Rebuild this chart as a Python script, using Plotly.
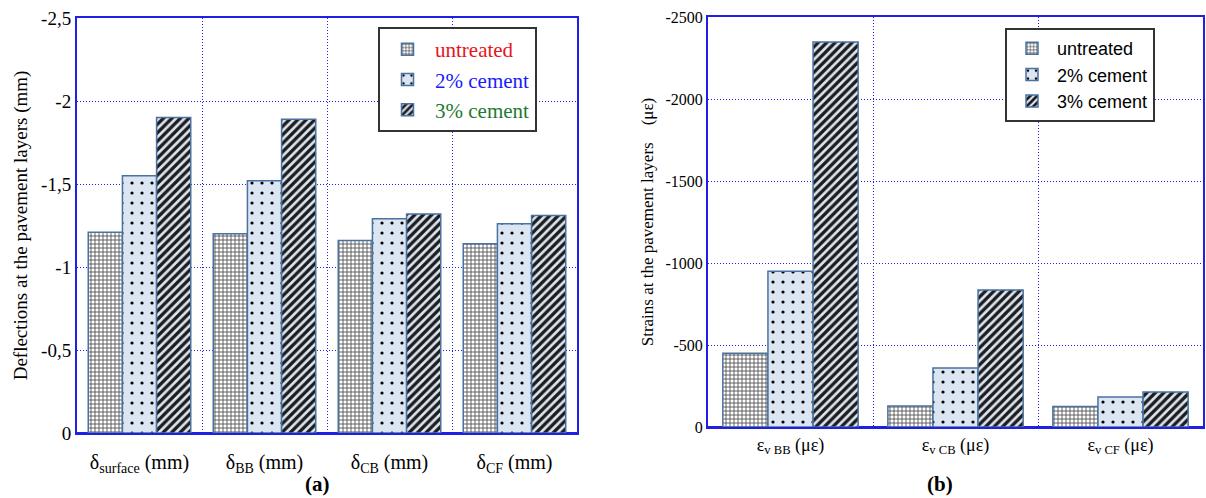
import plotly.graph_objects as go

# Deflections (mm) per pavement layer
defl_cats = ["δ<sub>surface</sub> (mm)", "δ<sub>BB</sub> (mm)", "δ<sub>CB</sub> (mm)", "δ<sub>CF</sub> (mm)"]
defl_untreated = [-1.21, -1.20, -1.16, -1.14]
defl_cem2 = [-1.55, -1.52, -1.29, -1.26]
defl_cem3 = [-1.90, -1.89, -1.32, -1.31]
defl_ticks = [0, -0.5, -1, -1.5, -2, -2.5]
defl_ticktext = ["0", "-0,5", "-1", "-1,5", "-2", "-2,5"]

# Vertical strains (microstrain) per pavement layer
strain_cats = ["ε<sub>v BB</sub> (με)", "ε<sub>v CB</sub> (με)", "ε<sub>v CF</sub> (με)"]
strain_untreated = [-450, -128, -125]
strain_cem2 = [-950, -360, -183]
strain_cem3 = [-2348, -835, -213]
strain_ticks = [0, -500, -1000, -1500, -2000, -2500]

series_names = ["untreated", "2% cement", "3% cement"]
left_name_colors = ["#e8141b", "#1a1aff", "#1e7a2e"]

W, H = 1206, 498
axis_blue = "#1f1fe6"
serif = "Liberation Serif, Times New Roman, serif"
sans = "Liberation Sans, Arial, sans-serif"

outline = dict(color="#4a72a0", width=1.5)
patterns = [
    dict(shape="+", size=4, solidity=0.35, fgcolor="#3a3a3a", bgcolor="white", fillmode="replace"),
    dict(shape=".", size=10, solidity=0.08, fgcolor="black", bgcolor="#dce5f2", fillmode="replace"),
    dict(shape="/", size=6, solidity=0.55, fgcolor="#1c1c1c", bgcolor="#dce5f2", fillmode="replace"),
]

fig = go.Figure()

for name, col, vals, pat in zip(series_names, left_name_colors,
                                [defl_untreated, defl_cem2, defl_cem3], patterns):
    fig.add_trace(go.Bar(
        x=defl_cats, y=vals, xaxis="x", yaxis="y",
        name=f"<span style='color:{col};font-family:Liberation Serif, serif'>{name}</span>",
        legend="legend",
        marker=dict(pattern=pat, line=outline),
    ))

for name, vals, pat in zip(series_names, [strain_untreated, strain_cem2, strain_cem3], patterns):
    fig.add_trace(go.Bar(
        x=strain_cats, y=vals, xaxis="x2", yaxis="y2",
        name=name, legend="legend2",
        marker=dict(pattern=pat, line=outline),
    ))

common_x = dict(
    type="category", tickson="boundaries", showgrid=True,
    gridcolor=axis_blue, griddash="1px,2px", gridwidth=1,
    showline=True, linecolor=axis_blue, linewidth=2, mirror=True,
    ticks="", ticklen=0, automargin=False,
)
common_y = dict(
    showgrid=True, gridcolor=axis_blue, griddash="1px,2px", gridwidth=1,
    showline=True, linecolor=axis_blue, linewidth=2, mirror=True,
    zeroline=True, zerolinecolor=axis_blue, zerolinewidth=2,
    ticks="", automargin=False,
)

fig.update_layout(
    width=W, height=H,
    margin=dict(l=0, r=0, t=0, b=0, autoexpand=False),
    paper_bgcolor="white", plot_bgcolor="white",
    barmode="group", bargap=0.18, bargroupgap=0,
    font=dict(family=serif, color="black"),
    xaxis=dict(common_x, domain=[77 / W, 577 / W], anchor="y",
               ticklabelstandoff=10,
               tickfont=dict(family=serif, size=20)),
    yaxis=dict(common_y, domain=[1 - 433 / H, 1 - 18 / H], anchor="x",
               range=[0, -2.5], tickvals=defl_ticks, ticktext=defl_ticktext,
               tickfont=dict(family=serif, size=19),
               title=dict(text="Deflections at the pavement layers (mm)",
                          font=dict(family=serif, size=19), standoff=8)),
    xaxis2=dict(common_x, domain=[708 / W, 1203 / W], anchor="y2",
                tickfont=dict(family=serif, size=18)),
    yaxis2=dict(common_y, domain=[1 - 427 / H, 1 - 17 / H], anchor="x2",
                range=[0, -2500], tickvals=strain_ticks,
                ticktext=[str(t) for t in strain_ticks],
                tickfont=dict(family=serif, size=16),
                title=dict(text="Strains at the pavement layers    (με)",
                           font=dict(family=serif, size=17), standoff=8)),
    legend=dict(x=378 / W, y=1 - 27 / H, xanchor="left", yanchor="top",
                bgcolor="white", bordercolor="#333333", borderwidth=2,
                font=dict(family=serif, size=21), tracegroupgap=0,
                itemwidth=45, traceorder="normal"),
    legend2=dict(x=1005 / W, y=1 - 28 / H, xanchor="left", yanchor="top",
                 bgcolor="white", bordercolor="#333333", borderwidth=2,
                 font=dict(family=sans, size=18), tracegroupgap=0,
                 itemwidth=40, traceorder="normal"),
    annotations=[
        dict(text="<b>(a)</b>", x=317 / W, y=1 - 484 / H, xref="paper", yref="paper",
             xanchor="center", yanchor="middle",
             showarrow=False, font=dict(family=serif, size=21)),
        dict(text="<b>(b)</b>", x=940 / W, y=1 - 484 / H, xref="paper", yref="paper",
             xanchor="center", yanchor="middle",
             showarrow=False, font=dict(family=serif, size=21)),
    ],
)

fig.write_html("out.html")
